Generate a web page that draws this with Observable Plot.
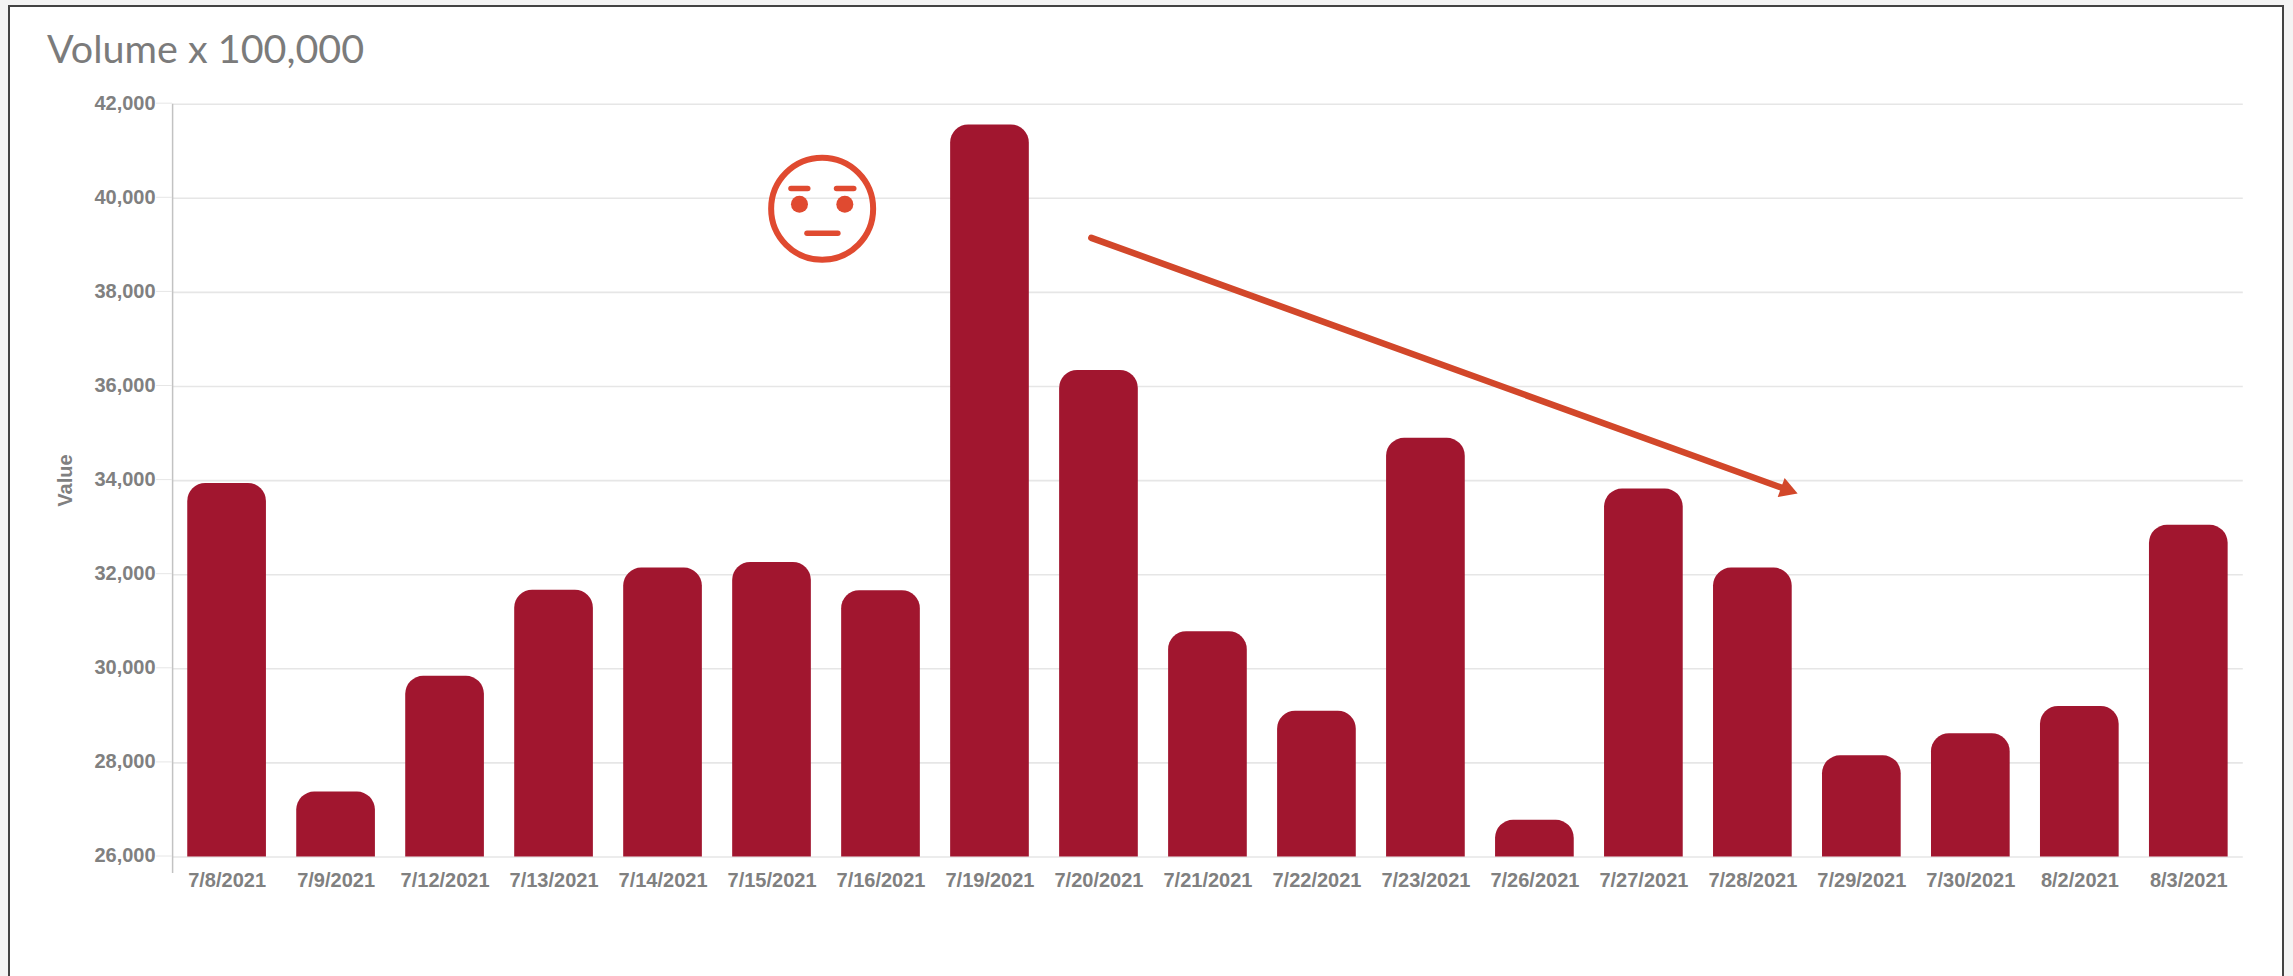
<!DOCTYPE html>
<html>
<head>
<meta charset="utf-8">
<script src="https://cdn.jsdelivr.net/npm/d3@7"></script>
<script src="https://cdn.jsdelivr.net/npm/@observablehq/plot@0.6"></script>
<style>
  html, body { margin: 0; padding: 0; width: 2293px; height: 976px; overflow: hidden; background: #f4f4f4; }
  #frame { position: absolute; left: 8px; top: 5px; width: 2272px; height: 1000px; background: #fff; border: 2px solid #444; }
  #page { position: relative; width: 2293px; }
  #title { height: 80px; box-sizing: border-box; padding: 28px 0 0 47px; font: 400 39.5px/1 Lato, sans-serif; color: #7b7b7b; white-space: nowrap; }
  svg { display: block; background: transparent !important; }
</style>
</head>
<body>
<div id="frame"></div>
<div id="page">
  <div id="title">Volume x 100,000</div>
  <div id="chart"></div>
</div>
<script>
const dates = ["7/8/2021","7/9/2021","7/12/2021","7/13/2021","7/14/2021","7/15/2021","7/16/2021","7/19/2021","7/20/2021","7/21/2021","7/22/2021","7/23/2021","7/26/2021","7/27/2021","7/28/2021","7/29/2021","7/30/2021","8/2/2021","8/3/2021"];
const volumes = [33940,27380,29840,31670,32140,32260,31660,41560,36340,30790,29100,34900,26780,33820,32140,28150,28620,29200,33050];
const yTicks = [26000,28000,30000,32000,34000,36000,38000,40000,42000];

// annotation anchors, in chart units (x = date index, y = value)
const arrowLine = [{x:7.93,y:39160},{x:14.32,y:33802}];
const arrowHead = [{x:14.31,y:33810}];
const faceCenter = [{x:5.46,y:39777}];
const faceEyes = [{x:5.252,y:39875},{x:5.668,y:39875}];
const faceStrokes = [
  {x1:5.174,x2:5.328,y:40208},
  {x1:5.592,x2:5.750,y:40208},
  {x1:5.321,x2:5.604,y:39258}
];

const rows = dates.map((date,i)=>({i,date,value:volumes[i]}));
const halfBar = 0.361;
const red = "#a1162f";
const accent = "#e04a30";
const arrowColor = "#d2472a";

const chart = Plot.plot({
  width: 2293,
  height: 896,
  marginTop: 23.7,
  marginBottom: 119.5,
  marginLeft: 172.1,
  marginRight: 50.2,
  style: {background:"transparent", fontFamily:"'Liberation Sans', Arial, sans-serif"},
  x: {domain:[-0.5,18.5], axis:null},
  y: {domain:[26000,42000], axis:null},
  marks: [
    Plot.ruleY(yTicks,{stroke:"#e6e6e6",strokeWidth:1.6,x1:-0.5,x2:18.5,strokeOpacity:1}),
    Plot.ruleX([-0.5],{y1:42000,y2:25650,stroke:"#c2c2c2",strokeWidth:1.5}),
    Plot.axisY({ticks:yTicks,tickFormat:d3.format(","),tickSize:16,tickPadding:1,stroke:"#e6e6e6",color:"#808080",fontSize:20,fontWeight:"bold",textStyle:{},label:"Value",labelAnchor:"center",labelArrow:"none",labelOffset:115,dy:-1}),
    Plot.axisX({ticks:d3.range(dates.length),tickFormat:i=>dates[i],tickSize:0,tickPadding:16,color:"#808080",fontSize:20,fontWeight:"bold",label:null}),
    Plot.rectY(rows,{x1:d=>d.i-halfBar,x2:d=>d.i+halfBar,y1:()=>25000,y2:"value",rx:18,fill:red,clip:true}),
    Plot.line(arrowLine,{x:"x",y:"y",stroke:arrowColor,strokeWidth:6.5}),
    Plot.dot(arrowHead,{x:"x",y:"y",symbol:"triangle",r:7.5,rotate:110,fill:arrowColor,stroke:"none"}),
    Plot.dot(faceCenter,{x:"x",y:"y",r:51,stroke:accent,strokeWidth:6,fill:"none"}),
    Plot.dot(faceEyes,{x:"x",y:"y",r:8.5,fill:accent,stroke:"none"}),
    Plot.link(faceStrokes,{x1:"x1",x2:"x2",y1:"y",y2:"y",stroke:accent,strokeWidth:5.5,strokeLinecap:"round"})
  ]
});
document.getElementById("chart").appendChild(chart);
</script>
</body>
</html>
